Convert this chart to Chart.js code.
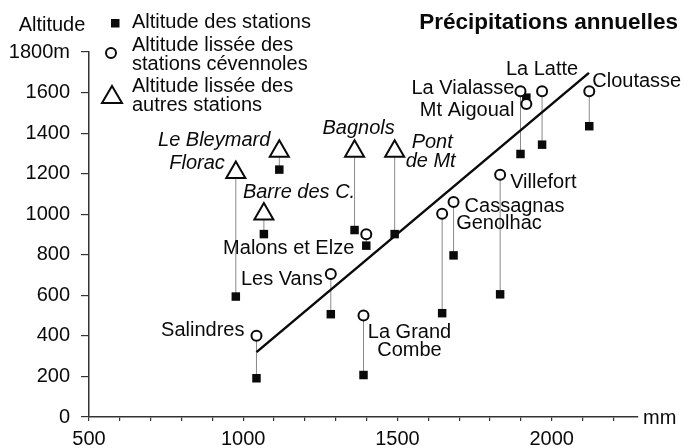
<!DOCTYPE html>
<html lang="fr">
<head>
<meta charset="utf-8">
<title>Précipitations annuelles</title>
<script src="https://cdn.jsdelivr.net/npm/chart.js@4.4.1/dist/chart.umd.min.js"></script>
<style>
  html, body { margin: 0; padding: 0; background: #fff; }
  #wrap { width: 688px; height: 448px; }
</style>
</head>
<body>
<div id="wrap"><canvas id="chart" width="688" height="448"></canvas></div>
<script>
// ── Données ──────────────────────────────────
const stations   = ["Salindres", "Les Vans", "Florac", "Le Bleymard", "Barre des C.", "Malons et Elze",
                    "Bagnols", "Pont|de Mt", "Genolhac", "Cassagnas", "Villefort", "La Grand|Combe",
                    "La Vialasse", "Mt Aigoual", "La Latte", "Cloutasse"];
const precip     = [1043, 1284, 976, 1117, 1067, 1399, 1361, 1491, 1645, 1682, 1833, 1390, 1899, 1918, 1969, 2122];
const altStation = [ 191,  507, 594, 1220,  902,  845,  922,  902,  512,  797,  605,  207, 1297, 1575, 1343, 1434];
const altLissee  = [ 401,  705, 1206, 1310, 1001, 901, 1310, 1310, 1002, 1060, 1195,  500, 1606, 1544, 1606, 1606];
const groupe     = ["cev", "cev", "autre", "autre", "autre", "cev", "autre", "autre",
                    "cev", "cev", "cev", "cev", "cev", "cev", "cev", "cev"];

// droite d'ajustement
const regX = [1043, 2121];
const regY = [320, 1697];

const xLabels = [500, 1000, 1500, 2000];
const yLabels = [0, 200, 400, 600, 800, 1000, 1200, 1400, 1600, 1800];

// ── Style / placement des étiquettes ─────────
const FONT = "'Liberation Sans', Arial, Helvetica, sans-serif";
const INK  = "#0a0a0a";
const FS   = 20;

// décalages en pixels par rapport au symbole lissé : [dx, dy] par ligne
const labelPos = {
  "Salindres":      { align: "right",  lines: [[-12, -5]] },
  "Les Vans":       { align: "right",  lines: [[-8, 5]] },
  "Florac":         { align: "right",  lines: [[-11, -9]], italic: true },
  "Le Bleymard":    { align: "right",  lines: [[-9, -11]], italic: true },
  "Barre des C.":   { align: "left",   lines: [[-21, -22]], italic: true },
  "Malons et Elze": { align: "right",  lines: [[-12, 14]] },
  "Bagnols":        { align: "center", lines: [[4, -23]], italic: true },
  "Pont|de Mt":     { align: "left",   lines: [[17, -9], [11, 10]], italic: true },
  "Genolhac":       { align: "left",   lines: [[14, 10]] },
  "Cassagnas":      { align: "left",   lines: [[11, 4]] },
  "Villefort":      { align: "left",   lines: [[10, 8]] },
  "La Grand|Combe": { align: "center", lines: [[46, 17], [46, 35]] },
  "La Vialasse":    { align: "right",  lines: [[-6, -3]] },
  "Mt Aigoual":     { align: "right",  lines: [[-12, 7]] },
  "La Latte":       { align: "center", lines: [[0, -22]] },
  "Cloutasse":      { align: "left",   lines: [[3, -10]] }
};

// ── Construction des jeux de données ─────────
const pts = (ys, keep) => precip
  .map((x, i) => ({ x, y: ys[i], i }))
  .filter(p => keep(p.i));

const connectors = [];
precip.forEach((x, i) => {
  connectors.push({ x, y: altStation[i] }, { x, y: altLissee[i] }, { x, y: null });
});

Chart.defaults.font.family = FONT;
Chart.defaults.color = INK;

const textPlugin = {
  id: "textes",
  afterDatasetsDraw(chart) {
    const { ctx, scales: { x, y } } = chart;
    ctx.save();
    ctx.fillStyle = INK;
    ctx.textBaseline = "middle";

    // étiquettes des stations
    stations.forEach((name, i) => {
      const pos = labelPos[name];
      const px = x.getPixelForValue(precip[i]);
      const py = y.getPixelForValue(altLissee[i]);
      ctx.font = (pos.italic ? "italic " : "") + FS + "px " + FONT;
      ctx.textAlign = pos.align;
      name.split("|").forEach((t, k) => {
        const [dx, dy] = pos.lines[k];
        ctx.fillText(t, px + dx, py + dy);
      });
    });

    // titre, unités
    ctx.font = "bold 22.5px " + FONT;
    ctx.textAlign = "right";
    ctx.fillText("Précipitations annuelles", 678, 23);

    ctx.font = FS + "px " + FONT;
    ctx.textAlign = "left";
    ctx.fillText("mm", x.right + 5, y.bottom + 1);
    ctx.textAlign = "center";
    ctx.fillText("Altitude", 52, 25);

    // légende
    ctx.textAlign = "left";
    ctx.fillRect(111, 19, 8.5, 8.5);
    ctx.fillText("Altitude des stations", 132, 22);

    ctx.lineWidth = 2;
    ctx.strokeStyle = INK;
    ctx.beginPath();
    ctx.arc(111, 53, 5, 0, Math.PI * 2);
    ctx.stroke();
    ctx.fillText("Altitude lissée des", 132, 45);
    ctx.fillText("stations cévennoles", 132, 64);

    ctx.beginPath();
    ctx.moveTo(112, 86);
    ctx.lineTo(122, 103);
    ctx.lineTo(102, 103);
    ctx.closePath();
    ctx.stroke();
    ctx.fillText("Altitude lissée des", 132, 86);
    ctx.fillText("autres stations", 132, 105);

    ctx.restore();
  }
};

new Chart(document.getElementById("chart"), {
  type: "scatter",
  data: {
    datasets: [
      {
        label: "Altitude lissée des stations cévennoles",
        data: pts(altLissee, i => groupe[i] === "cev"),
        pointStyle: "circle",
        pointRadius: 5,
        borderWidth: 2,
        borderColor: INK,
        backgroundColor: "#fff",
        order: 0
      },
      {
        label: "Altitude lissée des autres stations",
        data: pts(altLissee, i => groupe[i] === "autre"),
        pointStyle: "triangle",
        pointRadius: 11,
        borderWidth: 2,
        borderColor: INK,
        backgroundColor: "#fff",
        order: 0
      },
      {
        label: "Altitude des stations",
        data: pts(altStation, () => true),
        pointStyle: "rect",
        pointRadius: 6,
        borderWidth: 0,
        backgroundColor: INK,
        order: 1
      },
      {
        type: "line",
        label: "ajustement",
        data: regX.map((v, i) => ({ x: v, y: regY[i] })),
        borderColor: INK,
        borderWidth: 2.5,
        pointRadius: 0,
        order: 2
      },
      {
        type: "line",
        label: "liens",
        data: connectors,
        borderColor: "#8a8a8a",
        borderWidth: 1,
        pointRadius: 0,
        spanGaps: false,
        order: 3
      }
    ]
  },
  options: {
    responsive: false,
    animation: false,
    devicePixelRatio: 1,
    layout: { padding: { top: 52, right: 50, left: 0, bottom: 0 } },
    plugins: { legend: { display: false }, tooltip: { enabled: false } },
    scales: {
      x: {
        type: "linear",
        min: 500,
        max: 2280,
        afterFit: s => { s.height = 31; },
        ticks: {
          stepSize: 100,
          autoSkip: false,
          includeBounds: false,
          maxRotation: 0,
          padding: 6,
          font: { size: FS },
          callback: v => xLabels.includes(v) ? String(v) : ""
        },
        grid: { display: true, drawOnChartArea: false, drawTicks: true, tickLength: 4, color: "#333", lineWidth: 1.2 },
        border: { display: true, color: "#333", width: 1.5 }
      },
      y: {
        min: 0,
        max: 1800,
        afterFit: s => { s.width = 89; },
        ticks: {
          stepSize: 200,
          autoSkip: false,
          padding: 11,
          font: { size: FS },
          callback: v => yLabels.includes(v) ? (v === 1800 ? "1800m" : String(v)) : ""
        },
        grid: { display: true, drawOnChartArea: false, drawTicks: true, tickLength: 8, color: "#333", lineWidth: 1.2 },
        border: { display: true, color: "#333", width: 1.5 }
      }
    }
  },
  plugins: [textPlugin]
});
</script>
</body>
</html>
